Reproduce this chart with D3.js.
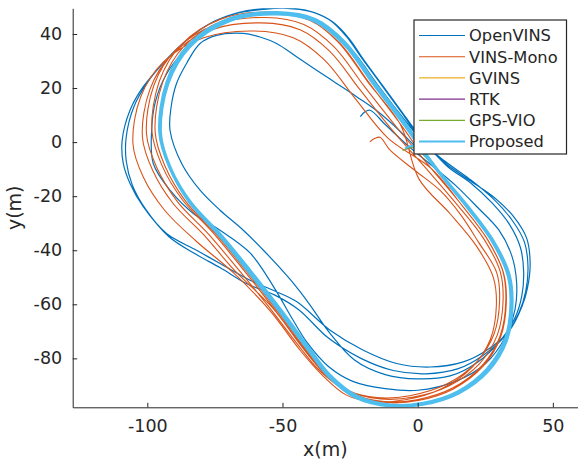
<!DOCTYPE html>
<html>
<head>
<meta charset="utf-8">
<script src="https://cdn.jsdelivr.net/npm/d3@7"></script>
<style>
  body { margin: 0; background: #fff; }
  text { font-family: "DejaVu Sans", sans-serif; fill: #262626; }
</style>
</head>
<body>
<script>

// trajectories, [x, y] in metres
var openVins = [
  [-21.2,9.4],[-19.5,11.2],[-17.6,11.8],[-12,6.5],[-4,-1],[5,-8.5],[14,-16],[22,-24],[30,-32.5],[34.8,-42],
  [36.6,-52],[36,-62],[32.5,-72],[25,-82],[14,-88.5],[0,-91.8],[-12,-91.2],[-24,-88.5],[-33,-83],[-41,-74],
  [-46,-66],[-53,-54],[-62,-41],[-73.1,-32.6],[-83,-26.4],[-91.6,-17.8],[-97.8,-7.9],[-98.4,4.4],[-97,15],
  [-93,25],[-86,34],[-76,42],[-64,46.6],[-51,47.6],[-40,46],[-30.5,40.5],[-23,32.5],[-15,21.5],[-7,11],[1.5,0.5],
  [10.5,-8],[19,-14],[28.2,-20.4],[35.7,-27.8],[40.3,-35.5],[41.6,-45],[40.6,-54],[38.5,-61],[34,-69.6],
  [25.5,-77],[16.9,-81.3],[4.6,-83.2],[-7.8,-81.9],[-20.1,-77],[-32.4,-69.6],[-44.8,-59],[-53,-55],
  [-62,-51.1],[-73.1,-44.9],[-81.8,-40],[-92.9,-33.8],[-101.5,-23.9],[-106.4,-15.3],[-108.9,-7.9],
  [-109.3,0.7],[-106.4,11.8],[-101.5,20.5],[-94.1,29.2],[-85.5,37.7],[-76.8,43.9],[-67,47.6],[-57,49.1],
  [-48.5,49.5],[-39.8,48.3],[-32.4,45.1],[-26.3,39],[-21,31.5],[-14,22],[-6,11],[2,0],
  [10,-7],[19,-13.5],[28,-21],[35,-29],[39.5,-37],[40.8,-46],[40,-55],[37.5,-63],[32.5,-71.5],[24,-79],
  [15,-83.8],[3,-85.7],[-9,-84.5],[-21,-80],[-33,-72.5],[-44,-62],[-53,-56.5],[-63,-52.5],[-73,-46.5],
  [-82,-41.5],[-92,-35],[-100.5,-25],[-105.5,-16],[-107.8,-7],[-107.8,2],[-105,13],[-100,22],[-93,30.5],
  [-84.5,38.5],[-75.5,44.5],[-66,48],[-56,49.5],[-47,49.6],[-38.5,48],[-31.5,44.5],[-25.5,38.5],[-20,30.5],
  [-13,21],[-5,10],[3,-0.5],
  [11,-9],[19.5,-15],[27.5,-22.5],[34,-30.5],[38,-39],[39.2,-48],[38.5,-57],[36,-65],[30.5,-73.5],[22,-81.5],
  [12,-86.5],[0,-87.6],[-12,-86],[-23.5,-80.5],[-33,-70],[-40,-60],[-47,-51],[-55.9,-41.2],[-64.5,-32.6],
  [-73.1,-25.2],[-80.5,-17.8],[-87.3,-7.9],[-91.6,4.4],[-91.2,13],[-89.2,21.7],[-85.5,29.1],[-80.5,36.5],
  [-74.4,39.5],[-64.5,40.2],[-58.3,38.9],[-52.2,36.5],[-44.8,31.6],[-37.4,26.6],[-30,21.7],[-22.6,16.8],
  [-15,11.5],[-7,4.5],[0,-2.5],[6,-8]
];

var vinsMono = [
  [-17.7,0.1],[-15.8,1.4],[-13.9,1.8],[-10.2,-3],[-1,-10.5],[8.2,-17.8],[16,-27],[22.5,-37],
  [29.2,-48.2],[30.3,-58.7],[28.2,-71.1],[21.6,-81.6],[10.4,-89.7],[-2.9,-93.8],[-15.1,-94.5],[-25.5,-92],
  [-35,-85],[-43,-75.5],[-53.5,-61.5],[-68,-47.2],[-79.1,-34.3],[-90.3,-22.9],[-98,-10.5],[-101.8,1.8],
  [-99,19.6],[-90.8,32.5],[-76.1,41.6],[-57.8,44.1],[-43.5,41.6],[-32.4,33.5],[-21.2,19.2],[-9.1,4.1],
  [3.6,-10.3],[14.8,-23.4],[24.4,-35.7],[30.5,-47.8],[31.6,-58.5],[29.5,-71.2],[22.9,-81.9],[11.7,-90.1],
  [-1.5,-94.3],[-13.7,-95],[-26.5,-91.8],[-36.5,-84.3],[-44.2,-75.1],[-54.3,-61.9],[-66.5,-46.9],
  [-77.7,-33.7],[-88.8,-22.1],[-96.5,-9.4],[-100.3,3],[-97.5,21.2],[-89.3,34.3],[-74.6,43.5],[-56.3,46.1],
  [-42.1,43.5],[-31,35.3],[-19.8,20.7],[-7.7,5.4],
  [4.8,-9.5],[16,-22.9],[25.4,-35.4],[31.5,-47.8],[32.6,-58.8],[30.5,-71.7],[23.9,-82.6],[12.9,-91],
  [-0.3,-95.3],[-12.4,-96],[-25,-92.7],[-35,-85.1],[-42.6,-75.6],[-52.7,-62.2],[-64.8,-46.8],[-75.8,-33.4],
  [-86.9,-21.5],[-94.6,-8.6],[-98.3,4.1],[-95.5,22.7],[-87.4,36.1],[-72.8,45.5],[-54.7,48.1],[-40.6,45.5],
  [-29.5,37.1],[-18.4,22.2],[-6.4,6.5],
  [0.5,-13.7],[12,-26.5],[21.7,-38.4],[28,-50.1],[29.1,-60.6],[26.9,-72.9],[20.2,-83.2],[8.8,-91.2],
  [-4.6,-95.3],[-17.1,-96],[-26.5,-93.5],[-35.5,-86],[-43.5,-77],[-54.5,-62.5],[-68,-48.5],
  [-82.2,-36.4],[-93.6,-25.2],[-101.5,-12.9],[-105.3,-0.8],[-102.4,16.9],[-94.1,29.6],[-79.2,38.6],
  [-60.5,41.1],[-46,38.6],[-34.7,30.6],[-23.3,16.4],[-11,1.5],
  [5.2,-9.9],[16.3,-23.3],[25.7,-35.8],[31.7,-48.2],[32.8,-59.1],[30.7,-72],[24.2,-82.9],[13.2,-91.3],
  [0.2,-95.6],[-11.8,-96.3],[-24.4,-93],[-34.3,-85.4],[-41.8,-76],[-51.8,-62.6],[-63.8,-47.2],[-74.8,-33.8],
  [-85.8,-21.9],[-93.4,-9],[-97.1,3.7],[-94.3,22.2],[-86.3,35.6],[-71.8,45],[-53.8,47.6],[-39.8,45],
  [-28.8,36.6],[-17.8,21.7],[-5.9,6],[0,-2.5]
];

var gvins = [
  [-5,-2.8],[-1,-2],[2.3,-5],[7.2,-10.2],[18.3,-23.8],[27.7,-36.4],[33.7,-49.2],[34.8,-60.1],[32.7,-73.2],
  [26.1,-84.2],[15.1,-92.7],[2,-97],[-10,-97.7],[-22.8,-94.4],[-32.7,-86.7],[-40.2,-77.2],[-50.2,-63.6],
  [-62.2,-48.1],[-73.2,-34.5],[-84.2,-22.4],[-91.8,-9.4],[-95.4,3.4],[-92.7,22.1],[-84.7,35.7],[-70.1,45.3],
  [-52,47.8],[-37.9,45.2],[-26.8,36.6],[-15.8,21.6],[-3.9,5.8],[1.5,-3]
];

var rtk = [
  [-4.3,-2.6],[-0.8,-1.8],[2.6,-4.9],[7.1,-10.5],[18.2,-24],[27.6,-36.6],[33.6,-49.1],[34.7,-60],[32.6,-73.1],
  [26,-84.1],[15,-92.6],[2,-96.9],[-10.1,-97.6],[-22.7,-94.3],[-32.6,-86.6],[-40.1,-77.1],[-50.1,-63.6],
  [-62.1,-48.1],[-73.1,-34.6],[-84.1,-22.5],[-91.7,-9.5],[-95.4,3.3],[-92.6,22],[-84.6,35.6],[-70,45.1],
  [-52,47.7],[-38,45.1],[-26.9,36.5],[-15.9,21.5],[-4,5.7],[1.2,-2.8]
];

var gpsVio = [
  [-5.6,-3.2],[-2,-2],[2.2,-4.6],[6.9,-10.3],[18,-23.8],[27.4,-36.4],[33.4,-48.9],[34.5,-59.9],[32.4,-72.9],
  [25.9,-83.9],[14.9,-92.4],[2,-96.7],[-9.9,-97.4],[-22.5,-94.1],[-32.4,-86.4],[-39.9,-76.9],[-49.9,-63.4],
  [-61.9,-47.9],[-72.9,-34.4],[-83.9,-22.4],[-91.5,-9.4],[-95.2,3.4],[-92.4,22.1],[-84.4,35.6],[-69.9,45.1],
  [-52,47.5],[-38.1,44.9],[-27.1,36.4],[-16.1,21.4],[-4.2,5.6],[1,-3]
];

var proposed = [
  [-4.7,-2.3],[-1.6,-1.5],[2.5,-4.8],
  [7,-10.4],[18.1,-23.9],[27.5,-36.5],[33.5,-49],[34.6,-60],[32.5,-73],[26,-84],[15,-92.5],[2,-96.8],
  [-10,-97.5],[-22.6,-94.2],[-32.5,-86.5],[-40,-77],[-50,-63.5],[-62,-48],[-73,-34.5],[-84,-22.5],
  [-91.6,-9.5],[-95.3,3.3],[-92.5,22],[-84.5,35.5],[-70,45],[-52,47.6],[-38,45],[-27,36.5],[-16,21.5],[-4.1,5.7],
  [7.4,-10.1],[18.6,-23.6],[28,-36.3],[34,-49],[35.1,-60.3],[33,-73.5],[26.3,-84.6],[15.2,-93],[2,-97.2],
  [-10.2,-97.8],[-23,-94.6],[-33,-86.8],[-40.4,-77.3],[-50.4,-63.8],[-62.5,-48.3],[-73.5,-34.6],[-84.5,-22.4],
  [-92,-9.2],[-95.6,3.6],[-92.9,22.3],[-84.9,36],[-70.3,45.6],[-52,48.1],[-37.7,45.5],[-26.6,36.8],[-15.6,21.7],[-3.7,5.9],
  [7.2,-10.6],[18.3,-24.3],[27.6,-37],[33.3,-49.5],[34.3,-60.2],[32.2,-73],[25.6,-83.8],[14.8,-92.2],[2,-96.4],
  [-10,-97.1],[-22.4,-93.8],[-32.2,-86.2],[-39.7,-76.6],[-49.6,-63.2],[-61.7,-47.6],[-72.6,-34.3],[-83.6,-22.5],
  [-91.2,-9.7],[-94.9,3],[-92.2,21.6],[-84.2,35.2],[-69.8,44.6],[-52,47.2],[-38.2,44.6],[-27.3,36.1],[-16.3,21.2],
  [-4.4,5.4],[1,-2.5]
];

var seriesNames = ["OpenVINS", "VINS-Mono", "GVINS", "RTK", "GPS-VIO", "Proposed"];
var seriesData = [openVins, vinsMono, gvins, rtk, gpsVio, proposed];
var colors = ["#0072BD", "#D95319", "#EDB120", "#7E2F8E", "#77AC30", "#4DBEEE"];
var widths = [1.2, 1.1, 1.2, 1.2, 1.2, 2];

var xTicks = [-100, -50, 0, 50];
var yTicks = [-80, -60, -40, -20, 0, 20, 40];

var W = 578, H = 460;
var axLeft = 72.7, axRight = 578, axTop = 8.3, axBottom = 407.3;

var svg = d3.select('body').append('svg')
  .attr('width', W)
  .attr('height', H);

var x = d3.scaleLinear().domain([-127.6, 59.3]).range([axLeft, axRight]);
var y = d3.scaleLinear().domain([-98.1, 49.5]).range([axBottom, axTop]);

svg.append('clipPath').attr('id', 'plotArea')
  .append('rect')
    .attr('x', axLeft).attr('y', axTop)
    .attr('width', axRight - axLeft).attr('height', axBottom - axTop);

var line = d3.line()
  .x(function(d) { return x(d[0]); })
  .y(function(d) { return y(d[1]); })
  .curve(d3.curveCatmullRom.alpha(0.5));

var plot = svg.append('g').attr('clip-path', 'url(#plotArea)');

plot.selectAll('path')
  .data(seriesData)
  .enter()
  .append('path')
    .attr('d', function(d) { return line(d); })
    .attr('fill', 'none')
    .attr('stroke', function(d, i) { return colors[i]; })
    .attr('stroke-width', function(d, i) { return widths[i]; })
    .attr('stroke-linejoin', 'round');

// axes, matlab style: ticks pointing in, no box, plain hyphen minus
var fmt = function(d) { return String(d); };

var xAxis = svg.append('g')
  .attr('transform', 'translate(0,' + axBottom + ')')
  .call(d3.axisBottom(x).tickValues(xTicks).tickFormat(fmt)
    .tickSizeInner(-4.5).tickSizeOuter(0).tickPadding(12));

var yAxis = svg.append('g')
  .attr('transform', 'translate(' + axLeft + ',0)')
  .call(d3.axisLeft(y).tickValues(yTicks).tickFormat(fmt)
    .tickSizeInner(-4.5).tickSizeOuter(0).tickPadding(10.5));

[xAxis, yAxis].forEach(function(a) {
  a.select('.domain').attr('stroke', '#262626').attr('stroke-width', 1);
  a.selectAll('.tick line').attr('stroke', '#262626');
  a.selectAll('.tick text')
    .attr('fill', '#262626')
    .style('font-size', '17.5px')
    .style('font-family', '"DejaVu Sans", sans-serif');
});

svg.append('text')
  .attr('x', (axLeft + axRight) / 2)
  .attr('y', 456)
  .attr('text-anchor', 'middle')
  .style('font-size', '19px')
  .text('x(m)');

svg.append('text')
  .attr('transform', 'translate(21,' + ((axTop + axBottom) / 2) + ') rotate(-90)')
  .attr('text-anchor', 'middle')
  .style('font-size', '19px')
  .text('y(m)');

// legend
var legend = svg.append('g');

legend.append('rect')
  .attr('x', 414).attr('y', 20)
  .attr('width', 152.5).attr('height', 134)
  .attr('fill', '#fff')
  .attr('stroke', '#262626')
  .attr('stroke-width', 1.2);

var rows = legend.selectAll('g.row')
  .data(seriesNames)
  .enter()
  .append('g')
    .attr('class', 'row')
    .attr('transform', function(d, i) { return 'translate(0,' + (35.5 + i * 21.2) + ')'; });

rows.append('line')
  .attr('x1', 419).attr('x2', 465)
  .attr('y1', 0).attr('y2', 0)
  .attr('stroke', function(d, i) { return colors[i]; })
  .attr('stroke-width', function(d, i) { return widths[i]; });

rows.append('text')
  .attr('x', 469)
  .attr('y', 0)
  .attr('dy', '0.36em')
  .style('font-size', '16.3px')
  .text(function(d) { return d; });

</script>
</body>
</html>
